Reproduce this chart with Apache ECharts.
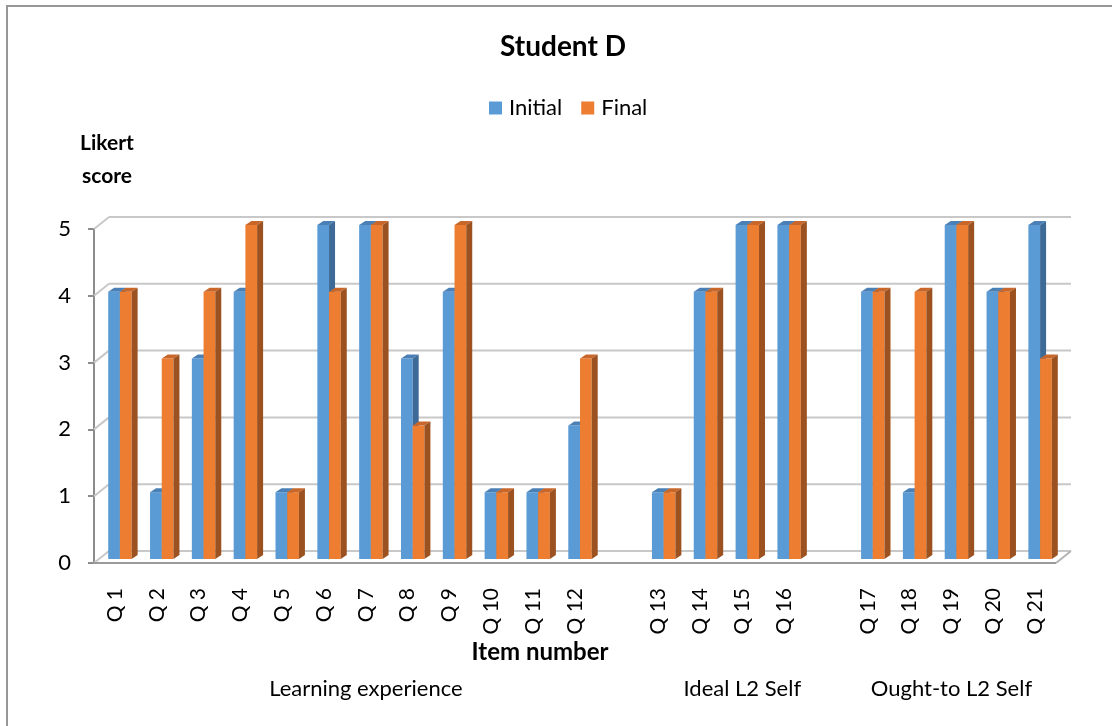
<!DOCTYPE html>
<html>
<head>
<meta charset="utf-8">
<script src="https://cdn.jsdelivr.net/npm/echarts@6/dist/echarts.min.js"></script>
<style>
html,body{margin:0;padding:0;background:#fff;}
#chart{width:1112px;height:726px;}
</style>
</head>
<body>
<div id="chart"></div>
<script>
const categories = ['Q 1','Q 2','Q 3','Q 4','Q 5','Q 6','Q 7','Q 8','Q 9','Q 10','Q 11','Q 12','',
                    'Q 13','Q 14','Q 15','Q 16','',
                    'Q 17','Q 18','Q 19','Q 20','Q 21'];
const initialScores = [4,1,3,4,1,5,5,3,4,1,1,2,null,1,4,5,5,null,4,1,5,4,5];
const finalScores   = [4,3,4,5,1,4,5,2,5,1,1,3,null,1,4,5,5,null,4,4,5,4,3];
const yTicks = [0,1,2,3,4,5];
const groupNames = ['Learning experience','Ideal L2 Self','Ought-to L2 Self'];
const groupFrom = [0,13,18];
const groupTo = [12,17,22];

const FONT = 'Lato, "Open Sans", sans-serif';
const DEPTH = [15, -12];      // back wall offset
const BAR_SHIFT = [5, -4];    // bar front plane offset
const BAR_DEPTH = [6, -4];    // bar thickness

const blue = {front:'#5B9BD5', top:'#4a80b6', side:'#3d6a96'};
const orange = {front:'#ED7D31', top:'#c9672a', side:'#9c5220'};

function barRenderer(side, c) {
  return function (params, api) {
    const v = api.value(1);
    if (v == null || isNaN(v)) return;
    const topP = api.coord([api.value(0), v]);
    const baseP = api.coord([api.value(0), 0]);
    const band = api.size([1, 0])[0];
    const w = band * 0.28;
    const x0 = topP[0] + (side === 0 ? -w : 0) + BAR_SHIFT[0];
    const x1 = x0 + w;
    const yt = topP[1] + BAR_SHIFT[1];
    const yb = baseP[1] + BAR_SHIFT[1];
    const dx = BAR_DEPTH[0], dy = BAR_DEPTH[1];
    return {
      type: 'group',
      children: [
        {type:'rect', shape:{x:x0, y:yt, width:w, height:yb-yt}, style:{fill:c.front}},
        {type:'polygon', shape:{points:[[x0,yt],[x0+dx,yt+dy],[x1+dx,yt+dy],[x1,yt]]}, style:{fill:c.top}},
        {type:'polygon', shape:{points:[[x1,yt],[x1+dx,yt+dy],[x1+dx,yb+dy],[x1,yb]]}, style:{fill:c.side}}
      ]
    };
  };
}

function frameRenderer(params, api) {
  const v = api.value(1);
  const band = api.size([1, 0])[0];
  const p0 = api.coord([0, v]);
  const pN = api.coord([categories.length - 1, v]);
  const xs = p0[0] - band / 2;
  const xe = pN[0] + band / 2;
  const y = p0[1];
  const children = [
    {type:'line', shape:{x1:xs, y1:y, x2:xs+DEPTH[0], y2:y+DEPTH[1]}, style:{stroke:'#c8c8c8', lineWidth:2}},
    {type:'line', shape:{x1:xs+DEPTH[0], y1:y+DEPTH[1], x2:xe+DEPTH[0], y2:y+DEPTH[1]}, style:{stroke:'#c8c8c8', lineWidth:2}}
  ];
  if (v === 0) {
    children.push({type:'line', shape:{x1:xs, y1:y, x2:xe, y2:y}, style:{stroke:'#9a9a9a', lineWidth:2}});
    children.push({type:'line', shape:{x1:xe, y1:y, x2:xe+DEPTH[0], y2:y+DEPTH[1]}, style:{stroke:'#b4b4b4', lineWidth:2}});
  }
  return {type:'group', children};
}

function groupRenderer(params, api) {
  const a = api.coord([api.value(0), 0]);
  const b = api.coord([api.value(1), 0]);
  return {
    type: 'text',
    x: (a[0] + b[0]) / 2,
    y: a[1] + 126,
    style: {text: groupNames[params.dataIndex], align:'center', verticalAlign:'middle',
            font: '22px ' + FONT, fill:'#000'}
  };
}

const chart = echarts.init(document.getElementById('chart'), null, {renderer:'canvas'});
chart.setOption({
  animation: false,
  backgroundColor: '#fff',
  grid: {left: 94, right: 56, top: 229, bottom: 163, containLabel: false},
  legend: {
    data: ['Initial', 'Final'],
    left: 489, top: 97, padding: 0,
    icon: 'rect', itemWidth: 13, itemHeight: 13, itemGap: 19,
    textStyle: {fontFamily: FONT, fontSize: 22, color: '#000', padding:[0,0,0,2]}
  },
  xAxis: {
    type: 'category',
    data: categories,
    boundaryGap: true,
    axisLine: {show: false},
    axisTick: {show: false},
    splitLine: {show: false},
    axisLabel: {interval: 0, rotate: 90, margin: 25, fontFamily: FONT, fontSize: 21, color: '#000'}
  },
  yAxis: {
    type: 'value',
    min: 0, max: 5, interval: 1,
    axisLine: {show: true, lineStyle: {color: '#8c8c8c', width: 2}},
    axisTick: {show: true, length: 6, lineStyle: {color: '#8c8c8c', width: 2}},
    splitLine: {show: false},
    axisLabel: {margin: 23, fontFamily: FONT, fontSize: 22, color: '#000'}
  },
  graphic: [
    {type:'rect', shape:{x:7, y:6, width:1300, height:900}, style:{fill:null, stroke:'#979797', lineWidth:2}, silent:true},
    {type:'text', x:563, y:47, style:{text:'Student D', align:'center', verticalAlign:'middle', font:'bold 28px ' + FONT, fill:'#000'}},
    {type:'text', x:107, y:160, style:{text:'Likert\nscore', align:'center', verticalAlign:'middle', lineHeight:33, font:'bold 21px ' + FONT, fill:'#000'}},
    {type:'text', x:540, y:652, style:{text:'Item number', align:'center', verticalAlign:'middle', font:'bold 24px ' + FONT, fill:'#000'}}
  ],
  series: [
    {
      type: 'custom', name: 'frame', z: 1, silent: true,
      renderItem: frameRenderer,
      data: yTicks.map(v => [0, v])
    },
    {
      type: 'custom', name: 'Initial', z: 2,
      itemStyle: {color: blue.front},
      renderItem: barRenderer(0, blue),
      data: initialScores.map((v, i) => [i, v])
    },
    {
      type: 'custom', name: 'Final', z: 3,
      itemStyle: {color: orange.front},
      renderItem: barRenderer(1, orange),
      data: finalScores.map((v, i) => [i, v])
    },
    {
      type: 'custom', name: 'groups', z: 4, silent: true,
      renderItem: groupRenderer,
      data: groupFrom.map((f, i) => [f, groupTo[i]])
    }
  ]
});
</script>
</body>
</html>
